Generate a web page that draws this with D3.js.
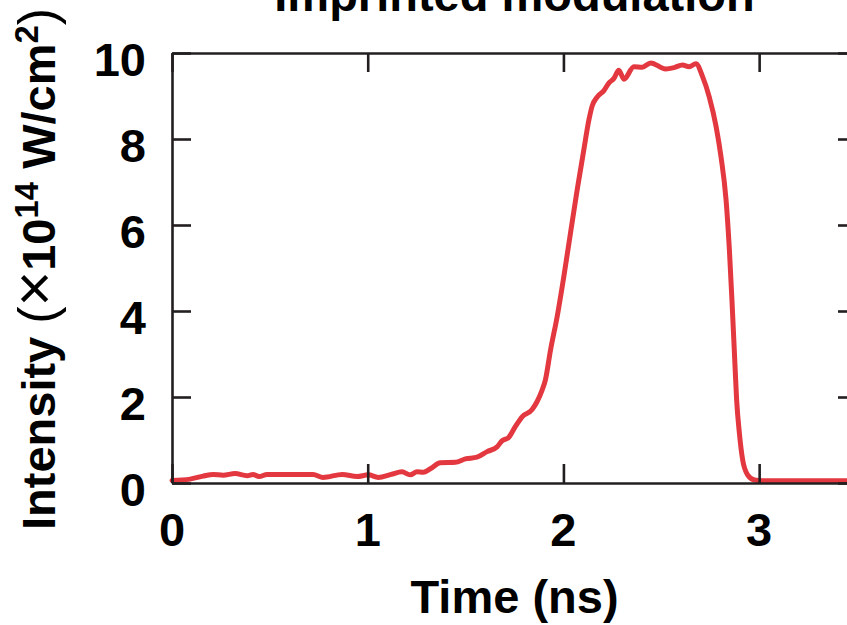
<!DOCTYPE html>
<html>
<head>
<meta charset="utf-8">
<script src="https://cdn.jsdelivr.net/npm/d3@7/dist/d3.min.js"></script>
<style>
  html, body { margin: 0; padding: 0; background: #fff; overflow: hidden; }
  svg { display: block; }
  text { font-family: "Liberation Sans", Arial, Helvetica, sans-serif; fill: #000; }
</style>
</head>
<body>
<script>
// ---- data ----
const title = "Imprinted modulation";
const xLabel = "Time (ns)";
const xTicks = [0, 1, 2, 3];
const yTicks = [0, 2, 4, 6, 8, 10];
const xDomain = [0, 3.5];
const yDomain = [0, 10];
const timeNs = [
  0.000, 0.092, 0.159, 0.210, 0.261, 0.322, 0.384, 0.414, 0.445, 0.486,
  0.721, 0.772, 0.870, 0.946, 1.003, 1.054, 1.120, 1.175, 1.217, 1.252,
  1.284, 1.320, 1.371, 1.448, 1.499, 1.558, 1.610, 1.661, 1.686, 1.720,
  1.754, 1.789, 1.840, 1.865, 1.891, 1.908, 1.934, 1.968, 2.002, 2.036,
  2.070, 2.104, 2.130, 2.147, 2.173, 2.206, 2.232, 2.258, 2.283, 2.309,
  2.360, 2.403, 2.446, 2.522, 2.565, 2.608, 2.642, 2.677, 2.711, 2.745,
  2.780, 2.805, 2.831, 2.848, 2.861, 2.873, 2.885, 2.899, 2.916, 2.941,
  2.976, 3.018, 3.500
];
const intensity = [
  0.06, 0.09, 0.16, 0.20, 0.18, 0.22, 0.17, 0.20, 0.15, 0.20,
  0.20, 0.13, 0.20, 0.15, 0.19, 0.13, 0.20, 0.26, 0.19, 0.26,
  0.25, 0.33, 0.47, 0.48, 0.56, 0.60, 0.73, 0.84, 0.98, 1.06,
  1.31, 1.54, 1.71, 1.89, 2.16, 2.40, 3.09, 3.87, 4.80, 5.81,
  6.81, 7.74, 8.44, 8.77, 8.98, 9.12, 9.30, 9.41, 9.60, 9.39,
  9.68, 9.67, 9.77, 9.63, 9.66, 9.72, 9.68, 9.75, 9.45, 8.98,
  8.29, 7.59, 6.58, 5.42, 4.26, 3.09, 1.93, 1.16, 0.53, 0.19,
  0.07, 0.05, 0.05
];

// ---- layout ----
const W = 847, H = 625;
const m = { left: 172, top: 53, right: 857, bottom: 483 };
const FS = 47;
const axisColor = "#231f20";
const lineColor = "#e3383f";
const tickLen = 19;

const svg = d3.select("body").append("svg")
  .attr("width", W).attr("height", H);

const x = d3.scaleLinear().domain(xDomain).range([m.left, m.right]);
const y = d3.scaleLinear().domain(yDomain).range([m.bottom, m.top]);

// curve
const data = timeNs.map((t, i) => ({ t, v: intensity[i] }));
svg.append("path")
  .datum(data)
  .attr("fill", "none")
  .attr("stroke", lineColor)
  .attr("stroke-width", 5)
  .attr("stroke-linejoin", "round")
  .attr("stroke-linecap", "round")
  .attr("d", d3.line().x(d => x(d.t)).y(d => y(d.v)).curve(d3.curveMonotoneX));

// axes (ticks inward, labels drawn separately)
function styleAxis(g) {
  g.selectAll("path").attr("stroke", axisColor).attr("stroke-width", 2.6);
  g.selectAll("line").attr("stroke", axisColor).attr("stroke-width", 2.6);
  g.selectAll("text").remove();
}
svg.append("g").attr("transform", `translate(0,${m.bottom})`)
  .call(d3.axisBottom(x).tickValues(xTicks).tickSizeInner(-tickLen).tickSizeOuter(0)).call(styleAxis);
svg.append("g").attr("transform", `translate(0,${m.top})`)
  .call(d3.axisTop(x).tickValues(xTicks).tickSizeInner(-tickLen).tickSizeOuter(0)).call(styleAxis);
svg.append("g").attr("transform", `translate(${m.left},0)`)
  .call(d3.axisLeft(y).tickValues(yTicks).tickSizeInner(-tickLen).tickSizeOuter(0)).call(styleAxis);
svg.append("g").attr("transform", `translate(${m.right},0)`)
  .call(d3.axisRight(y).tickValues(yTicks).tickSizeInner(-tickLen).tickSizeOuter(0)).call(styleAxis);

// tick labels
svg.append("g").selectAll("text").data(xTicks).join("text")
  .attr("x", d => x(d)).attr("y", 546)
  .attr("text-anchor", "middle").attr("font-size", FS).attr("font-weight", "bold")
  .text(d => d);
svg.append("g").selectAll("text").data(yTicks).join("text")
  .attr("x", 146).attr("y", d => y(d) + 6)
  .attr("dy", "0.36em")
  .attr("text-anchor", "end").attr("font-size", FS).attr("font-weight", "bold")
  .text(d => d);

// x label
svg.append("text")
  .attr("x", (m.left + m.right) / 2).attr("y", 613)
  .attr("text-anchor", "middle").attr("font-size", FS).attr("font-weight", "bold")
  .text(xLabel);

// title (partly cut off at top, as in the reference)
svg.append("text")
  .attr("x", (m.left + m.right) / 2).attr("y", 11)
  .attr("text-anchor", "middle").attr("font-size", FS).attr("font-weight", "bold")
  .text(title);

// y label
const yl = svg.append("text")
  .attr("transform", "translate(55,530) rotate(-90)")
  .attr("text-anchor", "start").attr("font-size", FS).attr("font-weight", "bold");
yl.append("tspan").text("Intensity ");
yl.append("tspan").attr("font-weight", "normal").attr("font-size", FS * 1.1).text("(");
yl.append("tspan").attr("font-weight", "normal").attr("font-size", FS * 1.3).text("×");
yl.append("tspan").text("10");
yl.append("tspan").attr("font-size", FS * 0.7).attr("dy", -17).text("14");
yl.append("tspan").attr("dy", 17).text(" W/cm");
yl.append("tspan").attr("font-size", FS * 0.7).attr("dy", -17).text("2");
yl.append("tspan").attr("dy", 17).attr("font-weight", "normal").attr("font-size", FS * 1.1).text(")");
</script>
</body>
</html>
